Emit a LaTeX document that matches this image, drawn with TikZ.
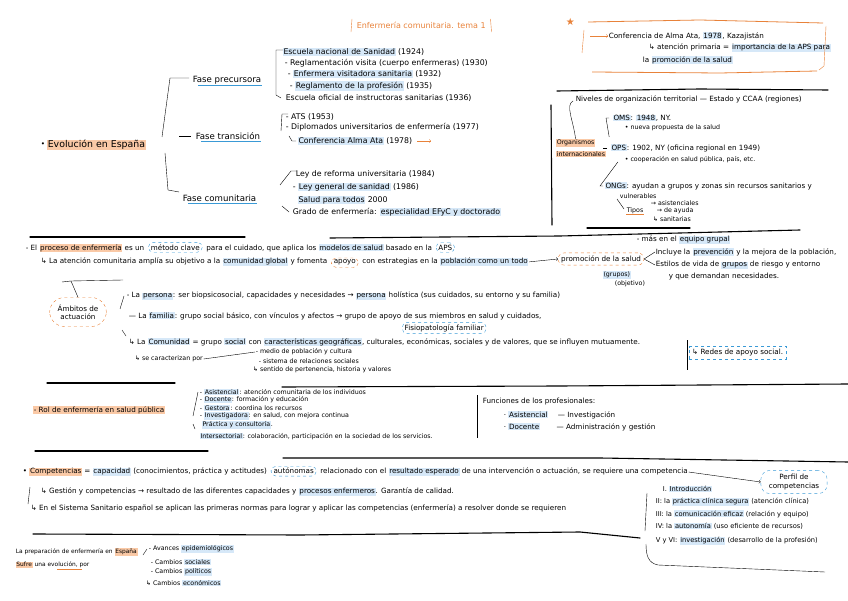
\documentclass[tikz,border=0pt]{standalone}
\usepackage{fontspec}
\setmainfont{DejaVu Sans}
\usetikzlibrary{positioning,calc}
\definecolor{hlorange}{HTML}{FAC9A6}
\definecolor{lnorange}{HTML}{E8823A}
\definecolor{hlblue}{HTML}{D6E8F8}
\definecolor{lnblue}{HTML}{3A9AD6}
\newcommand\hb[1]{{\setlength\fboxsep{0.7pt}\colorbox{hlblue}{#1}}}
\newcommand\ho[1]{{\setlength\fboxsep{0.7pt}\colorbox{hlorange}{#1}}}

\begin{document}
\begin{tikzpicture}[x=1pt,y=-1pt,
    txt/.style={anchor=west,inner sep=0.6pt,font=\fontsize{7.2}{8.2}\selectfont},
    itm/.style={txt,font=\fontsize{7.8}{8.8}\selectfont},
    big/.style={txt,font=\fontsize{8.6}{9.6}\selectfont},
    sml/.style={txt,font=\fontsize{6.3}{7.2}\selectfont},
    chain/.style={txt,anchor=base west},
    bov/.style={chain,draw=lnblue,dashed,rounded corners=5pt,inner xsep=2.5pt,inner ysep=2pt},
    oov/.style={chain,draw=lnorange,dashed,rounded corners=5pt,inner xsep=2.5pt,inner ysep=2pt},
    conn/.style={thin,black},
    rule/.style={line width=1.1pt,line cap=round},
    ulblue/.style={lnblue,line width=0.8pt},
    ulorange/.style={lnorange,line width=0.8pt}]
  \useasboundingbox (0,0) rectangle (848,601);

  % ---------- evolucion en Espana ----------
  \node[txt,text=lnorange,font=\fontsize{8}{9}\selectfont] (title) at (356,25) {Enfermería comunitaria. tema 1};
  \draw[lnorange] ($(title.north west)+(-4,-2)$) -- ($(title.south west)+(-5,3)$);
  \draw[lnorange] ($(title.north east)+(4,-2)$) -- ($(title.south east)+(5,3)$);

  \node[big,fill=hlorange,font=\fontsize{9.4}{10}\selectfont] (evo) at (47,145) {Evolución en España};
  \node[txt] (evodot) [left=1pt of evo] {•};

  \node[big] (fp) at (192,80) {Fase precursora};
  \node[big] (ft) at (195,136) {Fase transición};
  \node[big] (fc) at (182,198) {Fase comunitaria};
  \foreach \f in {fp,ft,fc}
    \draw[ulblue] ($(\f.south west)+(6,1)$) -- ($(\f.south east)+(0,1)$);

  \draw[conn] ($(fp.west)+(-30,57)$) -- ($(fp.west)+(-22,-2)$) -- ($(fp.west)+(-3,-2)$);
  \draw[conn] ($(ft.west)+(-16,0)$) -- ($(ft.west)+(-4,0)$);
  \draw[conn] ($(fc.west)+(-17,-45)$) -- ($(fc.west)+(-14,-8)$) -- ($(fc.west)+(-3,-6)$);

  \node[itm] (p1) at (282,52) {\hb{Escuela nacional de Sanidad} (1924)};
  \node[itm] (p2) at (284,63) {- Reglamentación visita (cuerpo enfermeras) (1930)};
  \node[itm] (p3) at (287,74) {- \hb{Enfermera visitadora sanitaria} (1932)};
  \node[itm] (p4) at (289,86) {- \hb{Reglamento de la profesión} (1935)};
  \node[itm] (p5) at (285,98) {Escuela oficial de instructoras sanitarias (1936)};
  \draw[conn] ($(p1.west)+(1,-2)$) -| ($(p5.west)+(-9,-3)$) -- ++(5,3);

  \node[itm] (t1) at (285,117) {- ATS (1953)};
  \node[itm] (t2) at (285,127) {- Diplomados universitarios de enfermería (1977)};
  \node[itm] (t3) at (297,141) {\hb{Conferencia Alma Ata} (1978)};
  \coordinate (t3arr) at ($(t3.east)+(18,0)$);
  \draw[lnorange,->] ($(t3.east)+(4,0)$) -- (t3arr);
  \draw[conn] ($(t1.west)+(3,-3)$) -- ++(-6,0) -- ($(t2.west)+(-4,4)$);
  \draw[conn] ($(t3.west)+(-8,-5)$) -- ($(t3.west)+(-5,0)$) -- ($(t3.west)+(-1,0)$);

  \node[itm] (c1) at (295,174) {Ley de reforma universitaria (1984)};
  \node[itm] (c2) at (292,187) {- \hb{Ley general de sanidad} (1986)};
  \node[itm] (c3) at (297,200) {\hb{Salud para todos} 2000};
  \node[itm] (c4) at (292,212) {Grado de enfermería: \hb{especialidad EFyC y doctorado}};
  \draw[conn] ($(c1.west)+(2,-3)$) -- ++(-6,0) -- ($(c2.west)+(-12,-2)$);
  \draw[conn] ($(c4.west)+(-10,-6)$) -- ($(c4.west)+(-3,0)$);

  \draw[rule] (551,105) -- (552,225);

  % ---------- Alma Ata ----------
  \node[txt,text=lnorange,font=\fontsize{10}{10}\selectfont] (star) at (565,22) {★};
  \node[txt] (b1) at (608,36) {Conferencia de Alma Ata, \hb{1978}, Kazajistán};
  \coordinate (b1arr) at (590,36);
  \draw[lnorange,->] (b1arr) -- (b1.west);
  \node[txt] (b2) at (648,48) {↳ atención primaria = \hb{importancia de la APS para}};
  \node[txt] (b3) at (642,60) {la \hb{promoción de la salud}};
  \draw[lnorange,thick] (588,22) -- (700,20) -- (823,23);
  \draw[lnorange,thick] (592,72) -- (720,73) -- (817,71);
  \draw[lnorange] (584,30) -- (582,53);
  \draw[lnorange] (826,26) -- (824,66) -- (819,70);

  % ---------- organismos ----------
  \draw[rule] (557,91) -- (700,89) -- (828,90);
  \node[txt] (niv) at (575,99) {Niveles de organización territorial — Estado y CCAA (regiones)};
  \node[sml,fill=hlorange] (org) at (556,143) {Organismos};
  \node[sml,fill=hlorange] (org2) at (556,154) {internacionales};
  \draw[conn] (org.north) .. controls ($(org.north)+(-2,-18)$) and ($(niv.west)+(-10,6)$) .. ($(niv.west)+(-2,2)$);

  \node[txt] (oms) at (612,118) {\hb{OMS}: \hb{1948}, NY.};
  \node[sml] (oms2) at (624,128) {• nueva propuesta de la salud};
  \node[txt] (ops) at (610,148) {\hb{OPS}: 1902, NY (oficina regional en 1949)};
  \node[sml] (ops2) at (624,160) {• cooperación en salud pública, país, etc.};
  \node[txt] (ong) at (604,186) {\hb{ONGs}: ayudan a grupos y zonas sin recursos sanitarios y};
  \node[sml] (ong2) at (619,196) {vulnerables};
  \node[sml] (tip) at (626,211) {Tipos};
  \draw[ulorange] (tip.south west) -- (tip.south east);
  \node[sml] (tp1) at (650,203) {→ asistenciales};
  \node[sml] (tp2) at (656,211) {→ de ayuda};
  \node[sml] (tp3) at (652,219) {↳ sanitarias};
  \draw[conn] ($(oms.west)+(-3,0)$) -- ++(-3,0) -- ($(org.east)+(14,-6)$);
  \draw[conn] ($(ops.west)+(-3,0)$) -- ++(-4,0);
  \draw[conn] ($(org2.east)+(12,8)$) -- ($(ong.west)+(-4,0)$) -- ++(3,0);
  \draw[conn] ($(ong2.west)+(-2,3)$) -- ($(tip.west)+(-2,-2)$);
  \draw[rule] (587,228) -- (690,228);

  % ---------- ambitos ----------
  \draw[rule] (30,237) -- (245,237);
  \draw[rule] (330,238) -- (560,236) -- (800,230);

  \node[txt] (l1a) at (25,248) {- El \ho{proceso de enfermería} es un};
  \node[bov] (l1b) at ($(l1a.base east)+(3,0)$) {método clave};
  \node[chain] (l1c) at ($(l1b.base east)+(3,0)$) {para el cuidado, que aplica los \hb{modelos de salud} basado en la};
  \node[bov] (l1d) at ($(l1c.base east)+(3,0)$) {APS};

  \node[txt] (l2a) at (40,262) {↳ La atención comunitaria amplía su objetivo a la \hb{comunidad global} y fomenta};
  \node[oov] (l2b) at ($(l2a.base east)+(3,0)$) {apoyo};
  \node[chain] (l2c) at ($(l2b.base east)+(3,0)$) {con estrategias en la \hb{población como un todo}};
  \node[txt,draw=lnorange,dashed,rounded corners=6pt,inner xsep=3pt,inner ysep=2.5pt] (prom) at (558,259) {promoción de la salud};
  \draw[conn,->] (l2c.east) -- (prom.west);
  \node[sml] (u1) at (602,275) {\hb{(grupos)}};
  \node[sml] (u2) at (614,284) {(objetivo)};

  \node[txt] (rt1) at (636,240) {- más en el \hb{equipo grupal}};
  \node[txt] (rt2) at (655,252) {Incluye la \hb{prevención} y la mejora de la población,};
  \node[txt] (rt3) at (655,265) {Estilos de vida de \hb{grupos} de riesgo y entorno};
  \node[txt] (rt4) at (668,277) {y que demandan necesidades.};
  \draw[conn] (prom.east) -- (rt2.west);
  \draw[conn] (prom.east) -- (rt3.west);

  \node[txt,draw=lnorange,dashed,rounded corners=15pt,align=center,inner xsep=8pt,inner ysep=7pt,anchor=center] (amb) at (78,312) {Ámbitos de\\actuación};
  \coordinate (brc) at (71,281);
  \draw[conn] (62,282) -- (brc) -- (123,280);
  \draw[conn] (brc) -- (amb.north);

  \node[txt] (a1) at (126,296) {- La \hb{persona}: ser biopsicosocial, capacidades y necesidades → \hb{persona} holística (sus cuidados, su entorno y su familia)};
  \node[txt] (a2) at (128,316) {— La \hb{familia}: grupo social básico, con vínculos y afectos → grupo de apoyo de sus miembros en salud y cuidados,};
  \node[txt,draw=lnblue,dashed,rounded corners=5pt,inner xsep=2.5pt,inner ysep=2pt] (fis) at (402,328) {Fisiopatología familiar};
  \node[txt] (a3) at (128,342) {↳ La \hb{Comunidad} = grupo \hb{social} con \hb{características geográficas}, culturales, económicas, sociales y de valores, que se influyen mutuamente.};
  \node[sml] (a3b) at (134,359) {↳ se caracterizan por};
  \node[sml] (cc1) at (255,352) {- medio de población y cultura};
  \node[sml] (cc2) at (258,361) {- sistema de relaciones sociales};
  \node[sml] (cc3) at (252,370) {↳ sentido de pertenencia, historia y valores};
  \draw[conn] ($(a1.west)+(-2,0)$) -- ($(a2.west)+(-8,-7)$);
  \draw[conn] ($(a3.west)+(-6,-12)$) -- ($(a3.west)+(-2,-6)$);
  \draw[conn] (a3b.east) -- (cc1.west);

  \node[txt,draw=lnblue,dashed,inner xsep=3pt,inner ysep=3pt] (red) at (689,353) {↳ Redes de apoyo social.};
  \draw[conn] ($(red.west)+(-2,-13)$) -- ($(red.west)+(-2,17)$);

  % ---------- rol ----------
  \draw[rule] (47,383) -- (175,383);
  \draw[rule] (282,387) -- (560,386) -- (848,384);
  \node[txt,fill=hlorange] (rol) at (33,410) {- Rol de enfermería en salud pública};
  \node[sml] (r1) at (199,392) {- \hb{Asistencial}: atención comunitaria de los individuos};
  \node[sml] (r2) at (199,400) {- \hb{Docente}: formación y educación};
  \node[sml] (r3) at (199,408) {- \hb{Gestora}: coordina los recursos};
  \node[sml] (r4) at (199,416) {- \hb{Investigadora}: en salud, con mejora continua};
  \node[sml] (r5) at (201,425) {\hb{Práctica y consultoría}.};
  \node[sml] (r6) at (199,436) {\hb{Intersectorial}: colaboración, participación en la sociedad de los servicios.};
  \draw[conn] ($(r1.west)+(-1,0)$) -- ($(r4.west)+(-6,0)$);
  \draw[conn] ($(r5.west)+(-8,-1)$) -- ($(r5.west)+(-6,4)$);
  \draw[rule] (35,451) -- (208,451);

  \node[txt] (fun) at (482,402) {Funciones de los profesionales:};
  \node[txt] (f1) at (503,415) {· \hb{Asistencial} \quad — Investigación};
  \node[txt] (f2) at (503,427) {· \hb{Docente} \qquad — Administración y gestión};
  \draw[conn] ($(fun.west)+(-5,-7)$) -- ($(fun.west)+(-5,36)$);

  % ---------- competencias ----------
  \draw[rule] (283,458) -- (600,458) -- (848,462);
  \node[txt] (k1a) at (22,472) {• \ho{Competencias} = \hb{capacidad} (conocimientos, práctica y actitudes)};
  \node[bov] (k1b) at ($(k1a.base east)+(3,0)$) {autónomas};
  \node[chain] (k1c) at ($(k1b.base east)+(3,0)$) {relacionado con el \hb{resultado esperado} de una intervención o actuación, se requiere una competencia};
  \node[txt,draw=lnblue,dashed,rounded corners=9pt,align=center,inner xsep=8pt,inner ysep=4pt,anchor=center] (perf) at (794,482) {Perfil de\\competencias};
  \draw[conn,->] (k1c.east) -- (perf.west);
  \node[txt] (k2) at (40,492) {↳ Gestión y competencias → resultado de las diferentes capacidades y \hb{procesos enfermeros}. Garantía de calidad.};
  \node[txt] (k3) at (30,508) {↳ En el Sistema Sanitario español se aplican las primeras normas para lograr y aplicar las competencias (enfermería) a resolver donde se requieren};
  \draw[conn] ($(k2.west)+(-10,-5)$) -- ($(k3.west)+(-2,-4)$);

  \node[txt,font=\fontsize{6.7}{7.6}\selectfont] (i1) at (662,489) {I. \hb{Introducción}};
  \node[txt,font=\fontsize{6.7}{7.6}\selectfont] (i2) at (655,502) {II: la \hb{práctica clínica segura} (atención clínica)};
  \node[txt,font=\fontsize{6.7}{7.6}\selectfont] (i3) at (655,514) {III: la \hb{comunicación eficaz} (relación y equipo)};
  \node[txt,font=\fontsize{6.7}{7.6}\selectfont] (i4) at (655,526) {IV: la \hb{autonomía} (uso eficiente de recursos)};
  \node[txt,font=\fontsize{6.7}{7.6}\selectfont] (i5) at (655,541) {V y VI: \hb{investigación} (desarrollo de la profesión)};
  \draw[conn] ($(i1.west)+(-15,4)$) -- ($(i4.west)+(-10,5)$);
  \draw[conn] ($(i5.west)+(-9,3)$) .. controls ($(i5.west)+(-9,14)$) and ($(i5.west)+(-7,22)$) .. ($(i5.west)+(3,24)$) -- (825,572);
  \draw[rule] (33,534) -- (300,535) -- (580,532) -- (640,538);

  % ---------- preparacion ----------
  \node[sml,font=\fontsize{5.9}{6.6}\selectfont] (e1) at (15,552) {La preparación de enfermería en \ho{España}};
  \node[sml,font=\fontsize{5.9}{6.6}\selectfont] (e2) at (15,565) {\ho{Sufre} una evolución, por};
  \draw[ulorange] ($(e2.south west)+(42,0)$) -- ($(e2.south east)+(-8,0)$);
  \node[sml] (e3) at (148,549) {- Avances \hb{epidemiológicos}};
  \node[sml] (e4) at (150,562) {- Cambios \hb{sociales}};
  \node[sml] (e5) at (150,572) {- Cambios \hb{políticos}};
  \node[sml] (e6) at (145,583) {↳ Cambios \hb{económicos}};
  \draw[conn] ($(e3.west)+(-1,0)$) -- ($(e3.west)+(-5,6)$);
\end{tikzpicture}
\end{document}
